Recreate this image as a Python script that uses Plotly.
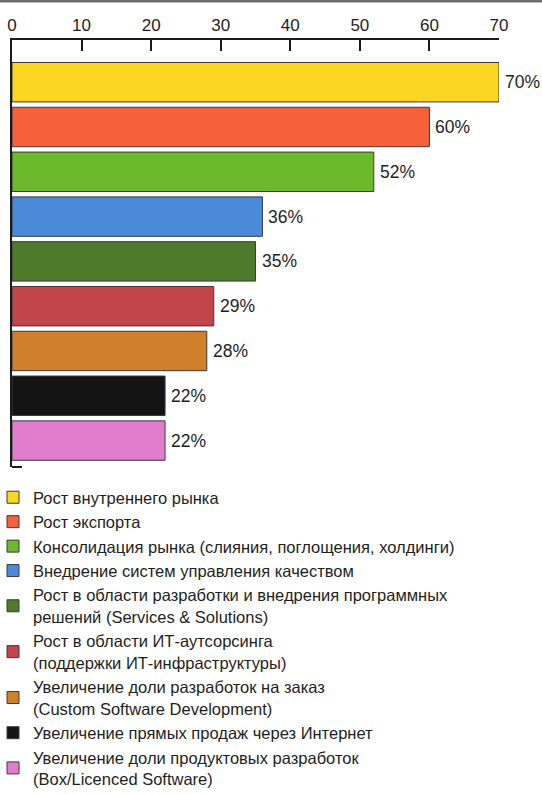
import plotly.graph_objects as go

# Survey: drivers of software industry growth, share of respondents (%)
categories = [
    "Рост внутреннего рынка",
    "Рост экспорта",
    "Консолидация рынка (слияния, поглощения, холдинги)",
    "Внедрение систем управления качеством",
    "Рост в области разработки и внедрения программных<br>решений (Services & Solutions)",
    "Рост в области ИТ-аутсорсинга<br>(поддержки ИТ-инфраструктуры)",
    "Увеличение доли разработок на заказ<br>(Custom Software Development)",
    "Увеличение прямых продаж через Интернет",
    "Увеличение доли продуктовых разработок<br>(Box/Licenced Software)",
]
values = [70, 60, 52, 36, 35, 29, 28, 22, 22]
colors = ["#FBD723", "#F6603A", "#6CB92B", "#4B8ADA", "#4D7A2B",
          "#C2454C", "#D0802A", "#141414", "#E27DCD"]
x_ticks = [0, 10, 20, 30, 40, 50, 60, 70]

FONT = "Liberation Sans, Arial, Helvetica, sans-serif"
TEXT = "#1e1e1e"

W, H = 542, 794
M_L, M_R, M_T, M_B = 12, 43, 40, 327
PLOT_W = W - M_L - M_R
PLOT_H = H - M_T - M_B

fig = go.Figure()
for i, (cat, val, col) in enumerate(zip(categories, values, colors)):
    fig.add_trace(go.Bar(
        x=[val], y=[i], name=cat, orientation="h",
        marker=dict(color=col, line=dict(color="#3a3a3a", width=1)),
        width=0.88, hoverinfo="x+name",
    ))
    fig.add_annotation(
        x=val, y=i, text=f"{val}%", showarrow=False,
        xanchor="left", xshift=4, yanchor="middle",
        font=dict(family=FONT, size=17.5, color=TEXT),
    )

fig.update_layout(
    width=W, height=H,
    margin=dict(l=M_L, r=M_R, t=M_T, b=M_B, autoexpand=False),
    paper_bgcolor="white", plot_bgcolor="white",
    barmode="overlay",
    showlegend=True,
    legend=dict(
        x=-19 / PLOT_W, xanchor="left", y=-13 / PLOT_H, yanchor="top",
        traceorder="normal",
        font=dict(family=FONT, size=16.5, color=TEXT),
        bgcolor="rgba(0,0,0,0)", borderwidth=0,
        itemclick=False, itemdoubleclick=False,
    ),
    xaxis=dict(
        side="top", range=[0, 70], tickvals=x_ticks,
        ticks="inside", ticklen=11, tickwidth=2, tickcolor="#1a1a1a",
        showline=True, linecolor="#1a1a1a", linewidth=2,
        showgrid=False, zeroline=False,
        tickfont=dict(family=FONT, size=17, color=TEXT),
    ),
    yaxis=dict(
        range=[8.59, -0.942], showticklabels=False, ticks="",
        showline=True, linecolor="#1a1a1a", linewidth=2,
        showgrid=False, zeroline=False,
    ),
    shapes=[
        # short stub closing the value axis at the bottom
        dict(type="line", xref="paper", yref="paper",
             x0=0, x1=10 / PLOT_W, y0=0, y1=0,
             line=dict(color="#1a1a1a", width=2)),
        # thin rule along the top edge of the page
        dict(type="line", xref="paper", yref="paper",
             x0=-M_L / PLOT_W, x1=1 + M_R / PLOT_W,
             y0=1 + (M_T - 1) / PLOT_H, y1=1 + (M_T - 1) / PLOT_H,
             line=dict(color="#6e6e6e", width=3)),
    ],
)

fig.write_html("out.html")
